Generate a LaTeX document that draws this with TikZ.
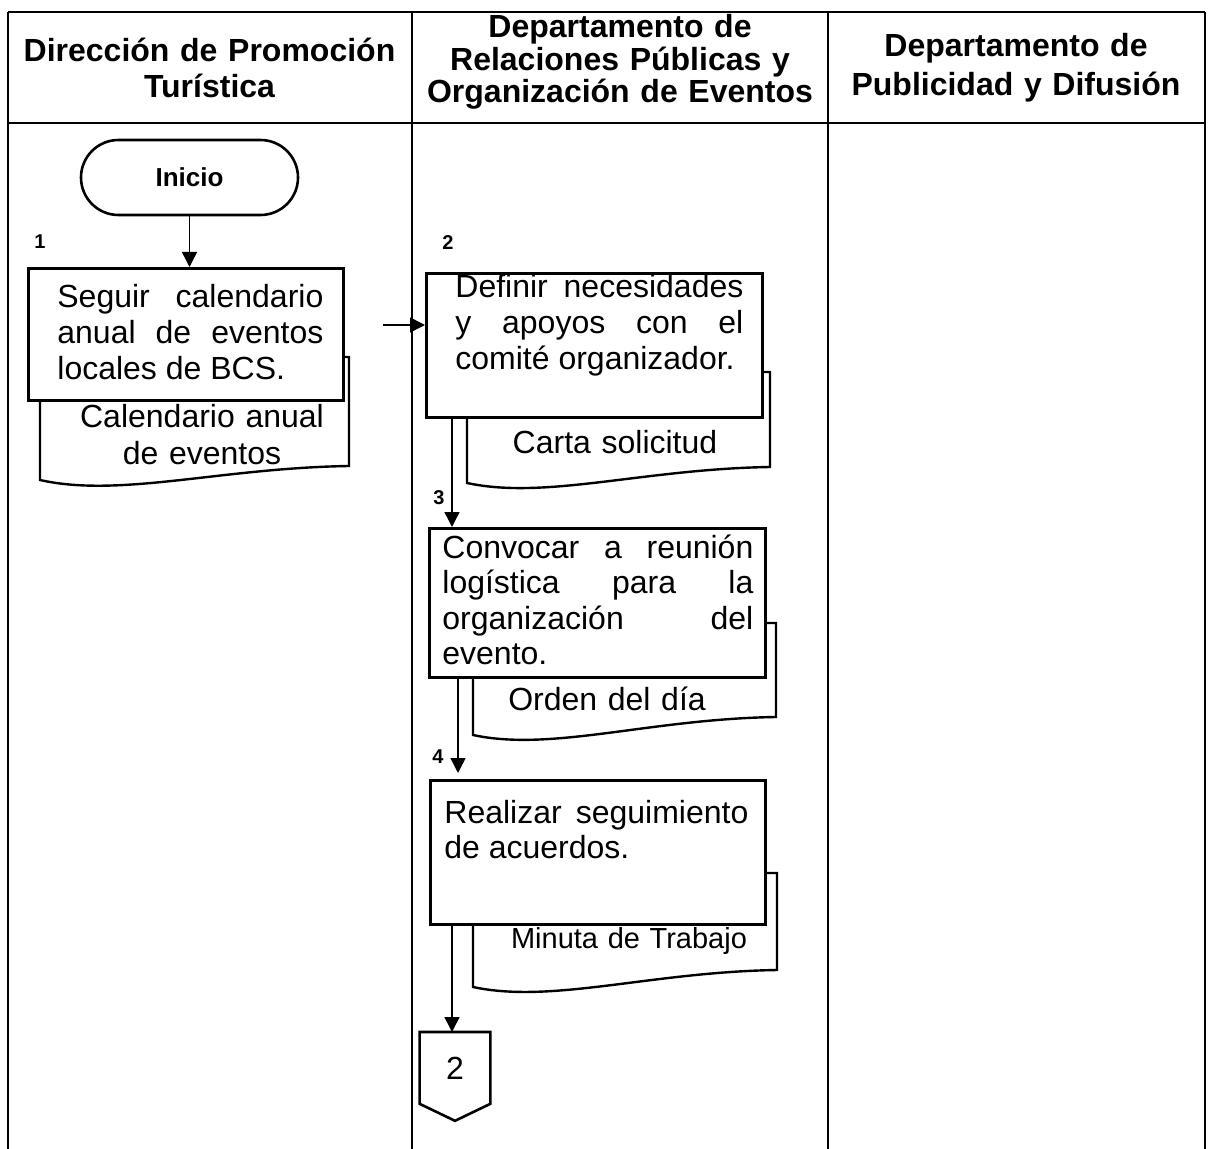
\documentclass[tikz,border=0pt]{standalone}
\usepackage{fontspec}
\setmainfont{Liberation Sans}
\usepackage{tikz}
\usetikzlibrary{arrows.meta}

\tikzset{
  laneline/.style={line width=1.4pt},
  lanehead/.style={inner sep=0pt, anchor=base, align=center, font=\bfseries\fontsize{16}{18}\selectfont},
  terminal/.style={draw, line width=1.3pt, rounded corners=18.75pt, minimum width=108.5pt, minimum height=37.5pt, font=\bfseries\fontsize{13}{15}\selectfont},
  procbox/.style={draw, line width=1.3pt, fill=white, inner sep=0pt, anchor=north west},
  proctext/.style={inner sep=0pt, anchor=base west, align=justify, font=\fontsize{16}{17.8}\selectfont,
    execute at begin node={\hyphenpenalty=10000\tolerance=10000}},
  docline/.style={draw, line width=1.2pt, fill=white},
  doctext/.style={inner sep=0pt, anchor=base, align=center, text width=150pt, font=\fontsize{16}{18}\selectfont},
  stepnum/.style={inner sep=0pt, font=\bfseries\fontsize{10}{12}\selectfont},
  flow/.style={line width=0.75pt, -{Triangle[width=7.5pt,length=7.5pt]}},
}

\begin{document}
\begin{tikzpicture}[x=0.5pt,y=-0.5pt]
\useasboundingbox (0,0) rectangle (1208,1149);

% LANES
\draw[laneline] (8,12) -- (1205,12);
\draw[laneline] (8,123) -- (1205,123);
\draw[laneline] (8,12) -- (8,1149);
\draw[laneline] (412,12) -- (412,1149);
\draw[laneline] (828,12) -- (828,1149);
\draw[laneline] (1205,12) -- (1205,1149);

\node[lanehead, text width=200pt] (h1) at (209.5,62) {Dirección de Promoción\\Turística};
\node[lanehead, text width=200pt, font=\bfseries\fontsize{16}{15}\selectfont] (h2) at (620,38) {Departamento de\\Relaciones Públicas y\\Organización de Eventos};
\node[lanehead, text width=186pt, font=\bfseries\fontsize{16}{19.5}\selectfont] (h3) at (1016,57) {Departamento de\\Publicidad y Difusión};

% DOCUMENTS (behind the boxes)
\draw[docline] (40,357) -- (349,357) -- (349,466) .. controls (220,468) and (120,498) .. (40,480) -- cycle;
\draw[docline] (467,372) -- (770,372) -- (770,467) .. controls (643,469) and (546,500) .. (467,483) -- cycle;
\draw[docline] (473,623) -- (776,623) -- (776,717) .. controls (649,719) and (552,752) .. (473,735) -- cycle;
\draw[docline] (473,873) -- (777,873) -- (777,970) .. controls (650,972) and (552,1004) .. (473,987) -- cycle;

\node[doctext] (d1) at (202,428) {Calendario anual\\de eventos};
\node[doctext] (d2) at (615,453) {Carta solicitud};
\node[doctext] (d3) at (607,710) {Orden del día};
\node[doctext, font=\fontsize{14.5}{17}\selectfont] (d4) at (629,948) {Minuta de Trabajo};

% FIRST LANE
\node[terminal] (ini) at (189.5,177.5) {Inicio};
\node[procbox, minimum width=157.5pt, minimum height=66pt] (p1) at (27,267) {};
\node[proctext, text width=133pt] (t1) at (57,308) {Seguir calendario\linebreak anual de eventos\linebreak locales de BCS.};
\node[stepnum] (n1) at (40,242) {1};

% SECOND LANE
\node[procbox, minimum width=168pt, minimum height=72pt] (p2) at (425,272) {};
\node[proctext, text width=144pt] (t2) at (455,298) {Definir necesidades\linebreak y apoyos con el\linebreak comité organizador.};
\node[stepnum] (n2) at (448,243) {2};

\node[procbox, minimum width=168pt, minimum height=74.5pt] (p3) at (428,527) {};
\node[proctext, text width=155.5pt] (t3) at (442,558) {Convocar a reunión\linebreak logística para la\linebreak organización del\linebreak evento.};
\node[stepnum] (n3) at (439,498) {3};

\node[procbox, minimum width=167.5pt, minimum height=72pt] (p4) at (429,779) {};
\node[proctext, text width=152pt] (t4) at (444,823) {Realizar seguimiento\linebreak de acuerdos.};
\node[stepnum] (n4) at (438,757) {4};

\node[inner sep=0pt, minimum width=35pt, minimum height=35.5pt, anchor=north, font=\fontsize{16}{18}\selectfont] (off) at (455,1032) {2};
\draw[line width=1.3pt] (off.north west) -- (off.south west) -- ([yshift=-8.5pt]off.south) -- (off.south east) -- (off.north east) -- cycle;

% CONNECTORS
\coordinate (a1) at (383,325);
\draw[flow] (ini) -- (ini |- p1.north);
\draw[flow] (a1) -- (a1 -| p2.west);
\draw[flow] ([xshift=13.5pt]p2.south west) -- ([xshift=13.5pt]p2.south west |- p3.north);
\draw[flow] ([xshift=15pt]p3.south west) -- ([xshift=15pt,yshift=3pt]p3.south west |- p4.north);
\draw[flow] ([xshift=11.5pt]p4.south west) -- ([xshift=11.5pt]p4.south west |- off.north);

\end{tikzpicture}
\end{document}
